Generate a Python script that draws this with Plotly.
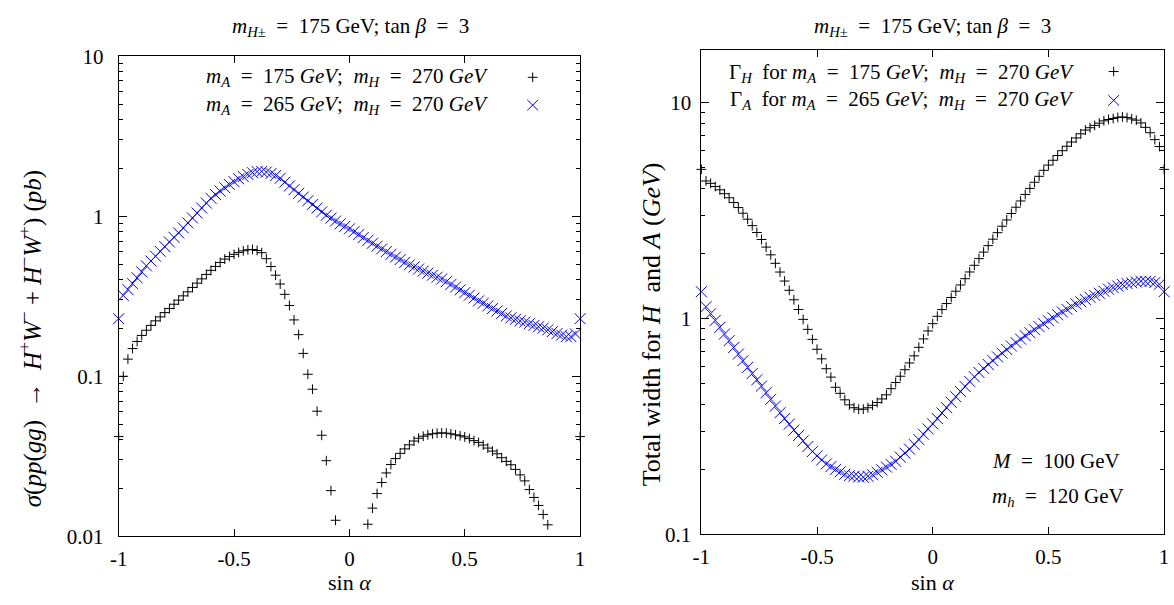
import plotly.graph_objects as go

W, H = 1174, 605

# ---------------- data ----------------
sin_alpha = [-1.00, -0.98, -0.96, -0.94, -0.92, -0.90, -0.88, -0.86, -0.84, -0.82,
             -0.80, -0.78, -0.76, -0.74, -0.72, -0.70, -0.68, -0.66, -0.64, -0.62,
             -0.60, -0.58, -0.56, -0.54, -0.52, -0.50, -0.48, -0.46, -0.44, -0.42,
             -0.40, -0.38, -0.36, -0.34, -0.32, -0.30, -0.28, -0.26, -0.24, -0.22,
             -0.20, -0.18, -0.16, -0.14, -0.12, -0.10, -0.08, -0.06, -0.04, -0.02,
             0.00, 0.02, 0.04, 0.06, 0.08, 0.10, 0.12, 0.14, 0.16, 0.18,
             0.20, 0.22, 0.24, 0.26, 0.28, 0.30, 0.32, 0.34, 0.36, 0.38,
             0.40, 0.42, 0.44, 0.46, 0.48, 0.50, 0.52, 0.54, 0.56, 0.58,
             0.60, 0.62, 0.64, 0.66, 0.68, 0.70, 0.72, 0.74, 0.76, 0.78,
             0.80, 0.82, 0.84, 0.86, 0.88, 0.90, 0.92, 0.94, 0.96, 0.98,
             1.00]

# left panel: cross section (pb); None = below the plotted range (not drawn)
sigma_mA175 = [0.042, 0.100, 0.128, 0.149, 0.165, 0.180, 0.194, 0.208, 0.222, 0.235,
               0.250, 0.265, 0.282, 0.299, 0.318, 0.337, 0.359, 0.382, 0.406, 0.433,
               0.459, 0.486, 0.514, 0.540, 0.560, 0.578, 0.594, 0.608, 0.617, 0.620,
               0.611, 0.592, 0.543, 0.485, 0.428, 0.377, 0.325, 0.277, 0.225, 0.182,
               0.139, 0.103, 0.083, 0.0605, 0.0428, 0.0297, 0.0193, 0.0126, None, None,
               None, None, None, None, 0.0119, 0.0150, 0.0185, 0.0217, 0.0249, 0.0281,
               0.0306, 0.0330, 0.0352, 0.0373, 0.0394, 0.0410, 0.0422, 0.0431, 0.0437, 0.0441,
               0.0443, 0.0441, 0.0437, 0.0431, 0.0425, 0.0418, 0.0408, 0.0396, 0.0386, 0.0372,
               0.0356, 0.0341, 0.0328, 0.0310, 0.0294, 0.0280, 0.0262, 0.0242, 0.0222, 0.0196,
               0.0175, 0.0156, 0.0137, 0.0118, None, None, None, None, None, None,
               0.042]

sigma_mA265 = [0.229, 0.320, 0.348, 0.379, 0.412, 0.449, 0.490, 0.525, 0.562, 0.603,
               0.646, 0.690, 0.738, 0.787, 0.845, 0.908, 0.975, 1.047, 1.125, 1.208,
               1.294, 1.365, 1.435, 1.507, 1.578, 1.644, 1.714, 1.770, 1.824, 1.871,
               1.901, 1.905, 1.888, 1.849, 1.795, 1.726, 1.633, 1.545, 1.466, 1.390,
               1.318, 1.250, 1.186, 1.125, 1.064, 1.014, 0.973, 0.933, 0.897, 0.865,
               0.834, 0.800, 0.767, 0.736, 0.706, 0.678, 0.650, 0.625, 0.601, 0.578,
               0.556, 0.536, 0.515, 0.497, 0.482, 0.468, 0.454, 0.441, 0.428, 0.416,
               0.405, 0.390, 0.375, 0.361, 0.347, 0.333, 0.321, 0.308, 0.296, 0.286,
               0.275, 0.265, 0.256, 0.247, 0.238, 0.232, 0.227, 0.222, 0.218, 0.213,
               0.208, 0.204, 0.200, 0.195, 0.190, 0.185, 0.181, 0.177, 0.177, 0.184,
               0.229]

# right panel: total widths (GeV)
width_H = [4.90, 4.33, 4.22, 4.08, 3.94, 3.78, 3.62, 3.44, 3.26, 3.07,
           2.88, 2.69, 2.50, 2.32, 2.14, 1.97, 1.80, 1.64, 1.49, 1.35,
           1.22, 1.10, 0.99, 0.89, 0.80, 0.72, 0.65, 0.585, 0.535, 0.48,
           0.45, 0.42, 0.398, 0.386, 0.380, 0.380, 0.386, 0.396, 0.408, 0.424,
           0.443, 0.473, 0.505, 0.540, 0.579, 0.622, 0.671, 0.735, 0.804, 0.875,
           0.946, 1.023, 1.099, 1.172, 1.250, 1.337, 1.429, 1.528, 1.641, 1.762,
           1.892, 2.028, 2.173, 2.328, 2.495, 2.673, 2.858, 3.062, 3.273, 3.499,
           3.75, 4.00, 4.27, 4.55, 4.85, 5.13, 5.40, 5.68, 5.98, 6.27,
           6.56, 6.85, 7.16, 7.45, 7.64, 7.83, 8.02, 8.22, 8.34, 8.43,
           8.53, 8.57, 8.51, 8.39, 8.28, 8.04, 7.67, 7.24, 6.73, 6.25,
           4.90]

width_A = [1.33, 1.133, 1.052, 0.979, 0.910, 0.847, 0.789, 0.734, 0.684, 0.637,
           0.594, 0.556, 0.520, 0.486, 0.453, 0.422, 0.393, 0.366, 0.344, 0.324,
           0.304, 0.287, 0.271, 0.255, 0.242, 0.231, 0.221, 0.212, 0.206, 0.200,
           0.195, 0.190, 0.187, 0.186, 0.1845, 0.184, 0.186, 0.189, 0.194, 0.199,
           0.205, 0.211, 0.218, 0.228, 0.238, 0.248, 0.261, 0.275, 0.291, 0.308,
           0.325, 0.344, 0.365, 0.386, 0.409, 0.434, 0.459, 0.484, 0.511, 0.537,
           0.562, 0.587, 0.612, 0.638, 0.664, 0.690, 0.718, 0.745, 0.773, 0.802,
           0.832, 0.859, 0.887, 0.916, 0.946, 0.977, 1.007, 1.040, 1.072, 1.102,
           1.135, 1.167, 1.194, 1.224, 1.253, 1.279, 1.309, 1.337, 1.365, 1.390,
           1.413, 1.436, 1.452, 1.462, 1.476, 1.486, 1.486, 1.486, 1.466, 1.439,
           1.33]

x_tickvals = [-1, -0.5, 0, 0.5, 1]
x_ticktext = ["-1", "-0.5", "0", "0.5", "1"]
yl_tickvals = [0.01, 0.1, 1, 10]
yl_ticktext = ["0.01", "0.1", "1", "10"]
yr_tickvals = [0.1, 1, 10]
yr_ticktext = ["0.1", "1", "10"]

FONT = "Liberation Serif"
FS = 21
FS_LABEL = 25
BLACK = "#000000"
BLUE = "#0000ff"


def px(x):
    return x / W


def py(y):
    return 1 - y / H


fig = go.Figure()
for xs, ys, xa, ya, sym, sz, col in [
    (sin_alpha, sigma_mA175, "x", "y", "cross-thin", 7, BLACK),
    (sin_alpha, sigma_mA265, "x", "y", "x-thin", 11, BLUE),
    (sin_alpha, width_H, "x2", "y2", "cross-thin", 7, BLACK),
    (sin_alpha, width_A, "x2", "y2", "x-thin", 11, BLUE),
]:
    fig.add_trace(go.Scatter(x=xs, y=ys, mode="markers", xaxis=xa, yaxis=ya,
                             marker=dict(symbol=sym, size=sz, line=dict(width=1, color=col), color=col),
                             cliponaxis=False, showlegend=False))


def minor_vals(lo_exp, hi_exp, vmax):
    vals = []
    for e in range(lo_exp, hi_exp + 1):
        for k in range(2, 10):
            v = k * 10 ** e
            if v <= vmax:
                vals.append(v)
    return vals


xcommon = dict(range=[-1, 1], tickmode="array", tickvals=x_tickvals, ticktext=x_ticktext,
               ticks="inside", ticklen=7, tickwidth=1, tickcolor=BLACK,
               showline=True, linecolor=BLACK, linewidth=1, mirror="ticks",
               showgrid=False, zeroline=False, ticklabelstandoff=3, ticklabeloverflow="allow",
               tickfont=dict(family=FONT, size=FS, color=BLACK))

ycommon = dict(type="log", tickmode="array", ticks="inside", ticklen=8, tickwidth=1, tickcolor=BLACK,
               showline=True, linecolor=BLACK, linewidth=1, mirror="ticks",
               showgrid=False, zeroline=False,
               tickfont=dict(family=FONT, size=FS, color=BLACK))

fig.update_layout(
    width=W, height=H, autosize=False, margin=dict(l=0, r=0, t=0, b=0, pad=0),
    paper_bgcolor="white", plot_bgcolor="white",
    xaxis=dict(domain=[px(111), px(578)], anchor="y", **xcommon),
    yaxis=dict(domain=[py(546), py(46)], anchor="x", range=[-2, 1],
               tickvals=yl_tickvals, ticktext=yl_ticktext, ticklabelstandoff=10,
               minor=dict(tickmode="array", tickvals=minor_vals(-2, 0, 10), ticks="inside",
                          ticklen=4, tickwidth=1, tickcolor=BLACK, showgrid=False),
               **ycommon),
    xaxis2=dict(domain=[px(700.7), px(1169)], anchor="y2", **xcommon),
    yaxis2=dict(domain=[py(544), py(40)], anchor="x2", range=[-1, 1.241],
                tickvals=yr_tickvals, ticktext=yr_ticktext, ticklabelstandoff=5,
                minor=dict(tickmode="array", tickvals=minor_vals(-1, 1, 17.4), ticks="inside",
                           ticklen=4, tickwidth=1, tickcolor=BLACK, showgrid=False),
                **ycommon),
)

ann = []


def text(x, y, s, xanchor="center", angle=0, size=FS):
    ann.append(dict(x=px(x), y=py(y), xref="paper", yref="paper", text=s, showarrow=False,
                    xanchor=xanchor, yanchor="middle", textangle=angle,
                    font=dict(family=FONT, size=size, color=BLACK)))


EQ = " &nbsp;=&nbsp; "
title = "<i>m</i><sub><i>H</i>±</sub>" + EQ + "175 GeV; tan <i>β</i>" + EQ + "3"
text(346, 16, title)
text(935, 16, title)
text(345, 594, "sin <i>α</i>", size=22)
text(935, 594, "sin <i>α</i>", size=22)
text(22, 340, "<i>σ</i>(<i>pp</i>(<i>gg</i>) &nbsp;→&nbsp; <i>H</i><sup>+</sup><i>W</i><sup>−</sup> + "
              "<i>H</i><sup>−</sup><i>W</i><sup>+</sup>) (<i>pb</i>)", angle=-90, size=FS_LABEL)
text(650, 325, "Total width for <i>H</i> &nbsp;and <i>A</i> (<i>GeV</i>)", angle=-90, size=FS_LABEL + 1)

leg1 = "<i>m<sub>A</sub></i>" + EQ + "175 <i>GeV</i>; &nbsp;<i>m<sub>H</sub></i>" + EQ + "270 <i>GeV</i>"
leg2 = "<i>m<sub>A</sub></i>" + EQ + "265 <i>GeV</i>; &nbsp;<i>m<sub>H</sub></i>" + EQ + "270 <i>GeV</i>"
text(487, 68, leg1, xanchor="right")
text(487, 97, leg2, xanchor="right")
text(1080, 63, "Γ<sub><i>H</i></sub> &nbsp;for " + leg1, xanchor="right")
text(1080, 92, "Γ<sub><i>A</i></sub> &nbsp;for " + leg2, xanchor="right")
text(993, 468, "<i>M</i>" + EQ + "100 GeV", xanchor="left")
text(993, 505, "<i>m<sub>h</sub></i>" + EQ + "120 GeV", xanchor="left")
fig.update_layout(annotations=ann)

shapes = []


def plus(cx, cy, r=5):
    shapes.append(dict(type="line", xref="paper", yref="paper", x0=px(cx - r), x1=px(cx + r),
                       y0=py(cy), y1=py(cy), line=dict(color=BLACK, width=1)))
    shapes.append(dict(type="line", xref="paper", yref="paper", x0=px(cx), x1=px(cx),
                       y0=py(cy - r), y1=py(cy + r), line=dict(color=BLACK, width=1)))


def cross(cx, cy, r=5.5):
    shapes.append(dict(type="line", xref="paper", yref="paper", x0=px(cx - r), x1=px(cx + r),
                       y0=py(cy - r), y1=py(cy + r), line=dict(color=BLUE, width=1)))
    shapes.append(dict(type="line", xref="paper", yref="paper", x0=px(cx - r), x1=px(cx + r),
                       y0=py(cy + r), y1=py(cy - r), line=dict(color=BLUE, width=1)))


plus(530, 68)
cross(530, 97)
plus(1118, 62)
cross(1118, 92)
fig.update_layout(shapes=shapes)

fig.write_html("out.html", config={"responsive": False, "displayModeBar": False})
